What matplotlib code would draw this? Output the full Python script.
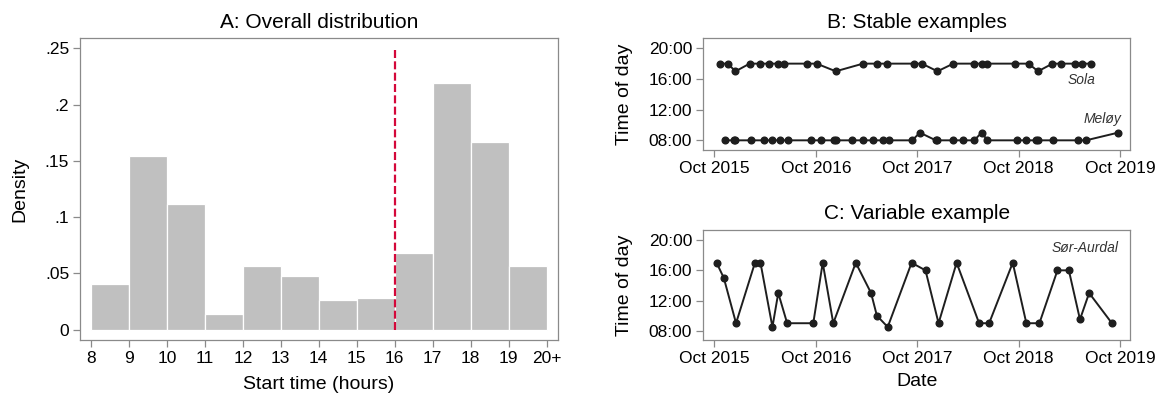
import matplotlib
matplotlib.use("Agg")
import matplotlib.pyplot as plt
import matplotlib.dates as mdates
from matplotlib.ticker import FixedLocator, FixedFormatter
from datetime import datetime

plt.rcParams['font.family'] = ['Liberation Sans', 'DejaVu Sans']
plt.rcParams['font.size'] = 12

# start-time histogram (density per one-hour bin, last bin is 20+)
bin_starts = [8, 9, 10, 11, 12, 13, 14, 15, 16, 17, 18, 19]
densities = [0.041, 0.154, 0.112, 0.014, 0.057, 0.048, 0.026, 0.028, 0.068, 0.219, 0.167, 0.057]
hour_labels = ["8", "9", "10", "11", "12", "13", "14", "15", "16", "17", "18", "19", "20+"]
cutoff_hour = 16
density_ticks = [0, 0.05, 0.1, 0.15, 0.2, 0.25]
density_labels = ["0", ".05", ".1", ".15", ".2", ".25"]

# meeting dates and start hours for the example municipalities
sola_dates = ["2015-10-22", "2015-11-19", "2015-12-17", "2016-02-06", "2016-03-16",
              "2016-04-14", "2016-05-17", "2016-06-10", "2016-08-31", "2016-10-04",
              "2016-12-12", "2017-03-20", "2017-05-09", "2017-06-13", "2017-09-21",
              "2017-10-18", "2017-12-13", "2018-02-08", "2018-04-24", "2018-05-21",
              "2018-06-11", "2018-09-17", "2018-11-06", "2018-12-10", "2019-01-31",
              "2019-03-03", "2019-04-22", "2019-05-18", "2019-06-17"]
sola_hours = [18, 18, 17, 18, 18, 18, 18, 18, 18, 18,
              17, 18, 18, 18, 18, 18, 17, 18, 18, 18,
              18, 18, 18, 17, 18, 18, 18, 18, 18]

meloy_dates = ["2015-11-10", "2015-12-11", "2015-12-16", "2016-02-10", "2016-03-30",
               "2016-04-27", "2016-05-26", "2016-06-24", "2016-09-14", "2016-10-20",
               "2016-12-06", "2016-12-13", "2017-02-09", "2017-03-21", "2017-04-25",
               "2017-05-30", "2017-06-20", "2017-09-13", "2017-10-11", "2017-12-07",
               "2017-12-13", "2018-02-08", "2018-03-14", "2018-04-24", "2018-05-21",
               "2018-06-11", "2018-09-24", "2018-10-29", "2018-12-04", "2018-12-11",
               "2019-02-02", "2019-05-02", "2019-06-01", "2019-09-24"]
meloy_hours = [8, 8, 8, 8, 8, 8, 8, 8, 8, 8,
               8, 8, 8, 8, 8, 8, 8, 8, 9, 8,
               8, 8, 8, 8, 9, 8, 8, 8, 8, 8,
               8, 8, 8, 9]

aurdal_dates = ["2015-10-10", "2015-11-05", "2015-12-19", "2016-02-25", "2016-03-16",
                "2016-04-28", "2016-05-19", "2016-06-20", "2016-09-22", "2016-10-26",
                "2016-12-03", "2017-02-22", "2017-04-18", "2017-05-09", "2017-06-17",
                "2017-09-11", "2017-10-31", "2017-12-17", "2018-02-20", "2018-05-12",
                "2018-06-17", "2018-09-10", "2018-10-29", "2018-12-15", "2019-02-18",
                "2019-03-31", "2019-05-10", "2019-06-12", "2019-09-02"]
aurdal_hours = [17, 15, 9, 17, 17, 8.5, 13, 9, 9, 17,
                9, 17, 13, 10, 8.5, 17, 16, 9, 17, 9,
                9, 17, 9, 9, 16, 16, 9.5, 13, 9]

hour_ticks = [8, 12, 16, 20]
hour_tick_labels = ["08:00", "12:00", "16:00", "20:00"]
year_ticks = ["2015-10-01", "2016-10-01", "2017-10-01", "2018-10-01", "2019-10-01"]

FRAME = "#8a8a8a"
BAR = "#c0c0c0"
RED = "#d4083a"
INK = "#1e1e1e"
TITLE_SIZE = 15
LABEL_SIZE = 14
TICK_SIZE = 12.5


def to_dates(strings):
    return [datetime.strptime(s, "%Y-%m-%d") for s in strings]


def style_frame(ax):
    for s in ax.spines.values():
        s.set_color(FRAME)
        s.set_linewidth(0.9)
    ax.tick_params(color=FRAME, length=5, width=0.9, pad=3, labelsize=TICK_SIZE)


def time_panel(ax, title, series, notes, title_pad):
    for dates, hours in series:
        ax.plot(to_dates(dates), hours, color=INK, lw=1.4, marker='o', ms=4.8,
                markerfacecolor=INK, markeredgecolor=INK)
    for text, xf, yf in notes:
        ax.text(xf, yf, text, transform=ax.transAxes, ha='right', va='center',
                fontsize=10, style='italic', color='#333333')
    ticks = to_dates(year_ticks)
    ax.set_xticks(ticks)
    ax.xaxis.set_major_formatter(mdates.DateFormatter("%b %Y"))
    ax.set_xlim(mdates.date2num(ticks[0]) - 39, mdates.date2num(ticks[-1]) + 36)
    ax.set_yticks(hour_ticks)
    ax.set_yticklabels(hour_tick_labels)
    ax.set_ylim(6.74, 21.38)
    ax.set_ylabel("Time of day", fontsize=LABEL_SIZE, labelpad=11)
    ax.set_title(title, fontsize=TITLE_SIZE, pad=title_pad)
    style_frame(ax)


fig = plt.figure(figsize=(11.58, 3.94), dpi=100)

# A: histogram of start times
axA = fig.add_axes([0.0693, 0.137, 0.4123, 0.767])
axA.bar(bin_starts, densities, width=1, align='edge', color=BAR,
        edgecolor='white', linewidth=0.9)
axA.plot([cutoff_hour, cutoff_hour], [0, 0.25], color=RED, lw=1.6,
         dashes=(3.6, 1.5))
axA.xaxis.set_major_locator(FixedLocator(list(range(8, 21))))
axA.xaxis.set_major_formatter(FixedFormatter(hour_labels))
axA.set_yticks(density_ticks)
axA.set_yticklabels(density_labels)
axA.set_xlim(7.72, 20.29)
axA.set_ylim(-0.0092, 0.2594)
axA.set_xlabel("Start time (hours)", fontsize=LABEL_SIZE, labelpad=7)
axA.set_ylabel("Density", fontsize=LABEL_SIZE, labelpad=12)
axA.set_title("A: Overall distribution", fontsize=TITLE_SIZE, pad=7)
style_frame(axA)

# B: two municipalities with stable start times
axB = fig.add_axes([0.6073, 0.6193, 0.3685, 0.285])
time_panel(axB, "B: Stable examples",
           [(sola_dates, sola_hours), (meloy_dates, meloy_hours)],
           [("Sola", 0.918, 0.623), ("Meløy", 0.981, 0.273)], 7)

# C: one municipality with varying start times
axC = fig.add_axes([0.6073, 0.1363, 0.3685, 0.2807])
time_panel(axC, "C: Variable example",
           [(aurdal_dates, aurdal_hours)],
           [("Sør-Aurdal", 0.974, 0.837)], 8)
axC.set_xlabel("Date", fontsize=LABEL_SIZE, labelpad=5)

fig.savefig("out.png", dpi=100)
